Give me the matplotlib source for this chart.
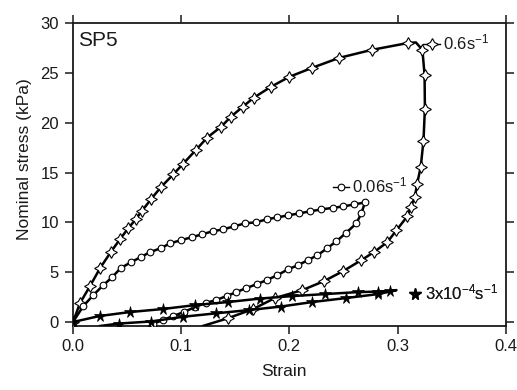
import matplotlib
matplotlib.use("Agg")
import matplotlib.pyplot as plt
from matplotlib.lines import Line2D

plt.rcParams['font.family'] = ['Liberation Sans', 'DejaVu Sans']
plt.rcParams['mathtext.fontset'] = 'custom'
plt.rcParams['mathtext.rm'] = 'Liberation Sans'
plt.rcParams['mathtext.it'] = 'Liberation Sans'

# 0.6 s^-1 (open 4-point stars)
fast_x = [0.0, 0.0065, 0.0157, 0.025, 0.0348, 0.0434, 0.051, 0.058, 0.0634, 0.072, 0.081,
          0.0926, 0.102, 0.114, 0.124, 0.137, 0.146, 0.157, 0.167, 0.183, 0.200, 0.221,
          0.246, 0.276, 0.310, 0.317,
          0.323, 0.325, 0.3253, 0.324, 0.3215, 0.318, 0.316, 0.312, 0.309, 0.299, 0.2905,
          0.278, 0.2665, 0.2496, 0.232, 0.212, 0.1865, 0.1665, 0.143, 0.12]
fast_y = [0.0, 1.9, 3.6, 5.4, 7.0, 8.3, 9.4, 10.3, 11.1, 12.3, 13.5,
          14.8, 15.9, 17.3, 18.5, 19.6, 20.6, 21.6, 22.5, 23.6, 24.6, 25.5,
          26.5, 27.3, 28.0, 28.05,
          27.3, 24.8, 21.4, 18.2, 15.6, 13.8, 12.5, 11.5, 10.6, 9.2, 8.0,
          7.0, 6.2, 5.1, 4.1, 3.2, 2.4, 1.3, 0.37, -0.4]
fast_marks = [i for i in range(len(fast_x)) if i not in (25, len(fast_x) - 1)]

# 0.06 s^-1 (open circles)
mid_x = [0.0, 0.0095, 0.0188, 0.028, 0.0363, 0.044, 0.0536, 0.0625, 0.071, 0.081, 0.090,
         0.0995, 0.1096, 0.1194, 0.129, 0.139, 0.149, 0.159, 0.169, 0.179, 0.189, 0.199,
         0.209, 0.219, 0.2297, 0.240, 0.250, 0.260, 0.270,
         0.2665, 0.262, 0.252, 0.2435, 0.235, 0.226, 0.217, 0.208, 0.199, 0.189, 0.179,
         0.170, 0.160, 0.151, 0.142, 0.132, 0.1225, 0.1127, 0.1025, 0.0926, 0.083, 0.0736]
mid_y = [0.0, 1.6, 2.7, 3.7, 4.5, 5.4, 6.0, 6.5, 7.0, 7.4, 7.9,
         8.2, 8.5, 8.8, 9.1, 9.3, 9.6, 9.9, 10.0, 10.3, 10.5, 10.7,
         10.9, 11.1, 11.3, 11.45, 11.6, 11.8, 12.0,
         10.9, 9.9, 8.9, 8.1, 7.4, 6.7, 6.2, 5.7, 5.3, 4.7, 4.2,
         3.8, 3.4, 3.0, 2.6, 2.2, 1.9, 1.5, 1.0, 0.6, 0.2, -0.2]

# 3x10^-4 s^-1 (filled stars)
slow_x = [0.0, 0.0245, 0.0526, 0.0828, 0.113, 0.143, 0.1727, 0.2025, 0.2327, 0.263, 0.282,
          0.293, 0.299,
          0.282, 0.252, 0.221, 0.192, 0.1628, 0.132, 0.102, 0.0717, 0.0428, 0.025]
slow_y = [0.0, 0.6, 1.0, 1.3, 1.7, 2.0, 2.35, 2.6, 2.8, 3.0, 3.05,
          3.1, 3.2,
          2.8, 2.4, 2.0, 1.55, 1.2, 0.87, 0.53, 0.05, -0.15, -0.4]
slow_marks = [i for i in range(len(slow_x)) if i not in (12, len(slow_x) - 1)]

fig = plt.figure(figsize=(5.17, 3.90), dpi=100)
ax = fig.add_axes([73 / 517, 1 - 325.5 / 390, 432.7 / 517, 302.5 / 390])

lw = 1.8
star4 = (4, 1, 0)
ax.plot(fast_x, fast_y, color='black', lw=lw, marker=star4, markevery=fast_marks,
        ms=8.5, mfc='white', mec='black', mew=0.8, zorder=3)
ax.plot(mid_x, mid_y, color='black', lw=lw, marker='o', ms=4.8,
        mfc='white', mec='black', mew=0.8, zorder=3)
ax.plot(slow_x, slow_y, color='black', lw=lw, marker='*', markevery=slow_marks,
        ms=8.5, mfc='black', mec='black', mew=0.5, zorder=3)

ax.set_xlim(0, 0.4)
ax.set_ylim(-0.35, 30)
ax.set_xticks([0.0, 0.1, 0.2, 0.3, 0.4])
ax.set_xticklabels(['0.0', '0.1', '0.2', '0.3', '0.4'])
ax.set_yticks([0, 5, 10, 15, 20, 25, 30])
ax.tick_params(direction='out', length=6, width=1.1, labelsize=12, pad=4,
               top=True, right=True, labeltop=False, labelright=False, colors='#1a1a1a')
for s in ax.spines.values():
    s.set_linewidth(1.3)
    s.set_color('#1a1a1a')

ax.set_xlabel('Strain', fontsize=12.5, color='#1a1a1a')
ax.set_ylabel('Nominal stress (kPa)', fontsize=12.5, color='#1a1a1a')
ax.xaxis.set_label_coords(0.488, -0.128)
ax.yaxis.set_label_coords(-0.094, 0.55)
ax.text(0.012, 0.975, 'SP5', transform=ax.transAxes, fontsize=15, va='top', ha='left',
        color='#1a1a1a')

def add_leg(handle, label, x, y):
    leg = ax.legend([handle], [label], loc='center left', bbox_to_anchor=(x, y),
                    frameon=False, fontsize=12, handlelength=1.0, handletextpad=0.15,
                    borderpad=0, borderaxespad=0, labelcolor='#1a1a1a')
    ax.add_artist(leg)

h_fast = Line2D([], [], color='black', lw=1, marker=star4, ms=8.5, mfc='white', mec='black', mew=0.8)
h_mid = Line2D([], [], color='black', lw=1, marker='o', ms=4.8, mfc='white', mec='black', mew=0.8)
h_slow = Line2D([], [], color='black', lw=0, marker='*', ms=8.5, mfc='black', mec='black')

add_leg(h_fast, r'0.6s$^{-1}$', 0.81, 0.935)
add_leg(h_mid, r'0.06s$^{-1}$', 0.6, 0.462)
add_leg(h_slow, r'3x10$^{-4}$s$^{-1}$', 0.77, 0.108)

fig.savefig('out.png', dpi=100)
